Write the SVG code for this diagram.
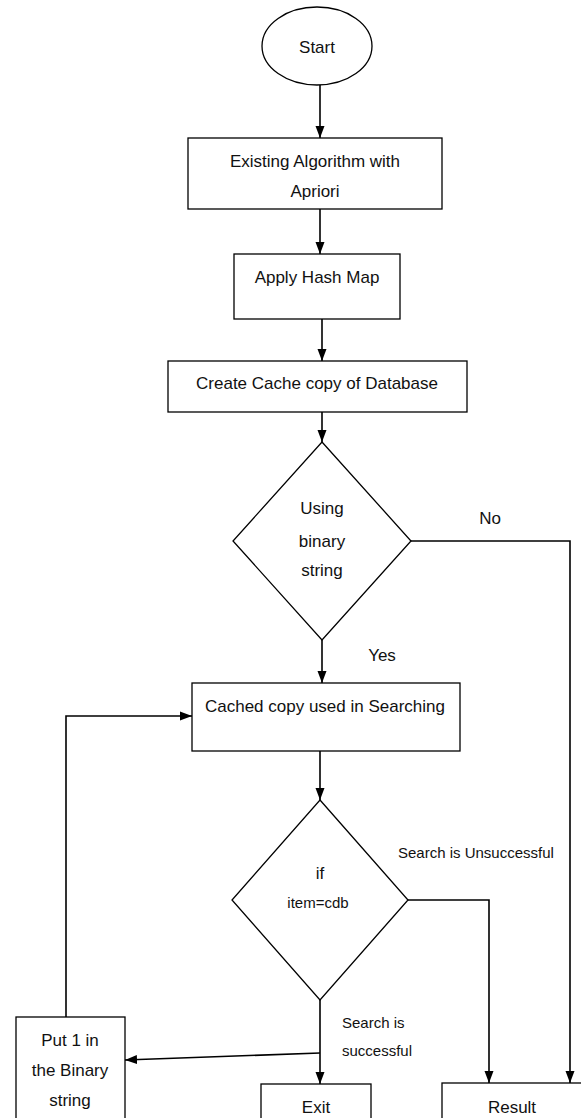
<svg xmlns="http://www.w3.org/2000/svg" width="581" height="1118" viewBox="0 0 581 1118">
<style>
.s{fill:#fff;stroke:#000;stroke-width:1.3}
.c{fill:none;stroke:#000;stroke-width:1.6}
text{font-family:"Liberation Sans",Arial,sans-serif;font-size:17px;fill:#111;text-anchor:middle;dominant-baseline:central}
.sm{font-size:15px}
.l{text-anchor:start}
</style>
<defs>
<marker id="a" markerUnits="userSpaceOnUse" markerWidth="12" markerHeight="12" viewBox="0 0 12 12" refX="12" refY="6" orient="auto">
<path d="M0,1.5 L12,6 L0,10.5 Z" fill="#000"/>
</marker>
</defs>
<rect width="581" height="1118" fill="#fff"/>
<g id="connectors">
<line class="c" x1="320" y1="85" x2="320" y2="138" marker-end="url(#a)"/>
<line class="c" x1="320" y1="209" x2="320" y2="254" marker-end="url(#a)"/>
<line class="c" x1="322" y1="319" x2="322" y2="361" marker-end="url(#a)"/>
<line class="c" x1="322" y1="412" x2="322" y2="442" marker-end="url(#a)"/>
<line class="c" x1="322" y1="640" x2="322" y2="683" marker-end="url(#a)"/>
<polyline class="c" points="411,541 570,541 570,1083" marker-end="url(#a)"/>
<line class="c" x1="320" y1="751" x2="320" y2="800" marker-end="url(#a)"/>
<polyline class="c" points="408,900 489,900 489,1083" marker-end="url(#a)"/>
<line class="c" x1="320" y1="1000" x2="320" y2="1084" marker-end="url(#a)"/>
<line class="c" x1="320" y1="1053" x2="125" y2="1060" marker-end="url(#a)"/>
<polyline class="c" points="66,1017 66,716 192,716" marker-end="url(#a)"/>
<text x="490" y="518">No</text>
<text x="382" y="655">Yes</text>
<text class="sm l" x="398" y="852">Search is Unsuccessful</text>
<text class="sm l" x="342" y="1022">Search is</text>
<text class="sm l" x="342" y="1050">successful</text>
</g>
<g id="start">
<ellipse class="s" cx="317" cy="46" rx="55" ry="39"/>
<text x="317" y="47">Start</text>
</g>
<g id="existing">
<rect class="s" x="188" y="138" width="254" height="71"/>
<text x="315" y="161">Existing Algorithm with</text>
<text x="315" y="191">Apriori</text>
</g>
<g id="hashmap">
<rect class="s" x="234" y="254" width="166" height="65"/>
<text x="317" y="277">Apply Hash Map</text>
</g>
<g id="cache">
<rect class="s" x="168" y="361" width="299" height="51"/>
<text x="317" y="383">Create Cache copy of Database</text>
</g>
<g id="decision1">
<polygon class="s" points="322,442 411,541 322,640 233,541"/>
<text x="322" y="508">Using</text>
<text x="322" y="541">binary</text>
<text x="322" y="570">string</text>
</g>
<g id="searching">
<rect class="s" x="192" y="683" width="268" height="68"/>
<text x="325" y="706">Cached copy used in Searching</text>
</g>
<g id="decision2">
<polygon class="s" points="320,800 408,900 320,1000 232,900"/>
<text x="320" y="873">if</text>
<text class="sm" x="318" y="902">item=cdb</text>
</g>
<g id="put1">
<rect class="s" x="16" y="1017" width="109" height="110"/>
<text x="70" y="1040">Put 1 in</text>
<text x="70" y="1070">the Binary</text>
<text x="70" y="1100">string</text>
</g>
<g id="exit">
<rect class="s" x="261" y="1084" width="110" height="50"/>
<text x="316" y="1107">Exit</text>
</g>
<g id="result">
<rect class="s" x="442" y="1083" width="150" height="50"/>
<text x="512" y="1107">Result</text>
</g>
</svg>
